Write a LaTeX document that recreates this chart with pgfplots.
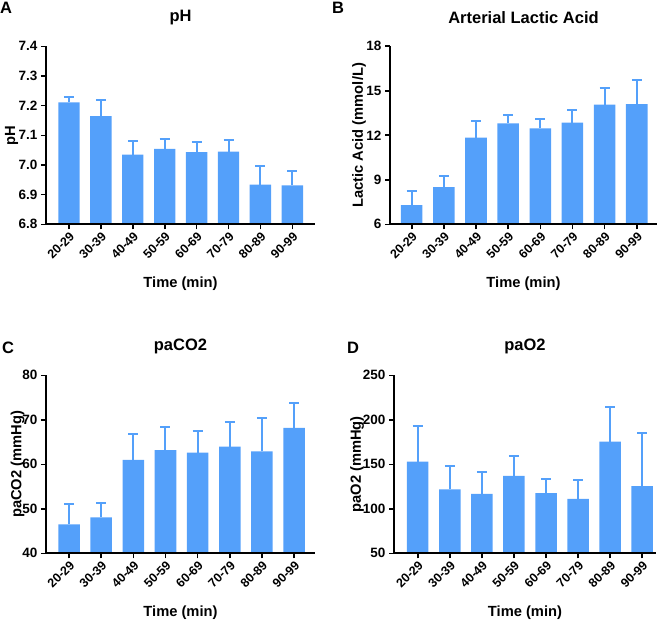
\documentclass[border=0pt]{standalone}
\usepackage{fontspec}
\setmainfont{Liberation Sans}
\usepackage{pgfplots}
\pgfplotsset{compat=1.18}

\definecolor{barblue}{RGB}{84,160,250}

\pgfplotsset{
  panel/.style={
    scale only axis,
    height=178pt,
    anchor=south west,
    axis x line*=bottom,
    axis y line*=left,
    axis on top,
    axis line style={line width=1.8pt, black},
    tick style={line width=1.6pt, black},
    tick align=outside,
    major tick length=5pt,
    xtick={0,...,7},
    xticklabels={20-29,30-39,40-49,50-59,60-69,70-79,80-89,90-99},
    xticklabel style={font=\fontsize{12.5}{14}\selectfont\bfseries, rotate=45, anchor=north east, inner sep=1pt},
    yticklabel style={font=\fontsize{13.5}{16}\selectfont\bfseries},
    /pgf/number format/assume math mode=true,
    label style={font=\fontsize{14.7}{17}\selectfont\bfseries},
    title style={font=\fontsize{16.5}{19}\selectfont\bfseries, at={(0.5,1)}, anchor=center, yshift=22.5pt},
    xlabel={Time (min)},
    xlabel style={at={(axis description cs:0.5,0)}, anchor=center, yshift=-59pt},
  },
  bars/.style={
    ybar, bar width=0.67, fill=barblue, draw=none,
    error bars/.cd, y dir=plus, y explicit,
    error mark=|,
    error bar style={barblue, line width=2pt},
    error mark options={barblue, line width=2pt, mark size=5pt},
  },
}

\begin{document}
\begin{tikzpicture}
\useasboundingbox (0pt,0pt) rectangle (666pt,622pt);

% A: pH
\begin{axis}[panel, at={(46pt,397.7pt)}, width=269pt,
    xmin=-0.72, xmax=7.71, ymin=6.8, ymax=7.4,
    ytick={6.8,6.9,...,7.41},
    yticklabel style={/pgf/number format/.cd, fixed, fixed zerofill, precision=1},
    title={pH}, ylabel={pH},
    ylabel style={at={(axis description cs:-0.1275,0.5)}, anchor=center}]
\addplot[bars] coordinates {
  (0,7.211) +- (0,0.019)
  (1,7.165) +- (0,0.053)
  (2,7.035) +- (0,0.046)
  (3,7.054) +- (0,0.034)
  (4,7.043) +- (0,0.034)
  (5,7.045) +- (0,0.038)
  (6,6.934) +- (0,0.061)
  (7,6.931) +- (0,0.049)
};
\end{axis}

% B: Arterial lactic acid
\begin{axis}[panel, at={(390pt,397.7pt)}, width=267pt,
    xmin=-0.675, xmax=7.63, ymin=6, ymax=18,
    ytick={6,9,12,15,18},
    title={Arterial Lactic Acid}, ylabel={Lactic Acid (mmol/L)},
    ylabel style={at={(axis description cs:-0.116,0.5)}, anchor=center}]
\addplot[bars] coordinates {
  (0,7.30) +- (0,0.96)
  (1,8.51) +- (0,0.76)
  (2,11.84) +- (0,1.12)
  (3,12.81) +- (0,0.58)
  (4,12.47) +- (0,0.63)
  (5,12.85) +- (0,0.87)
  (6,14.06) +- (0,1.12)
  (7,14.10) +- (0,1.66)
};
\end{axis}

% C: paCO2
\begin{axis}[panel, at={(46pt,68.7pt)}, width=269pt,
    xmin=-0.716, xmax=7.65, ymin=40, ymax=80,
    ytick={40,50,...,80},
    title={paCO2}, ylabel={paCO2 (mmHg)},
    ylabel style={at={(axis description cs:-0.106,0.5)}, anchor=center}]
\addplot[bars] coordinates {
  (0,46.5) +- (0,4.5)
  (1,48.1) +- (0,3.3)
  (2,61.0) +- (0,5.8)
  (3,63.2) +- (0,5.1)
  (4,62.6) +- (0,4.9)
  (5,64.0) +- (0,5.4)
  (6,62.9) +- (0,7.6)
  (7,68.2) +- (0,5.5)
};
\end{axis}

% D: paO2
\begin{axis}[panel, at={(394pt,68.7pt)}, width=262pt,
    xmin=-0.74, xmax=7.43, ymin=50, ymax=250,
    ytick={50,100,...,250},
    title={paO2}, ylabel={paO2 (mmHg)},
    ylabel style={at={(axis description cs:-0.141,0.5)}, anchor=center}]
\addplot[bars] coordinates {
  (0,153.0) +- (0,40.0)
  (1,121.9) +- (0,26.6)
  (2,116.9) +- (0,24.1)
  (3,136.9) +- (0,22.1)
  (4,117.6) +- (0,16.4)
  (5,111.2) +- (0,20.8)
  (6,175.6) +- (0,38.4)
  (7,125.6) +- (0,59.9)
};
\end{axis}

% panel letters
\node[font=\fontsize{16.5}{19}\selectfont\bfseries] at (6pt,614.5pt) {A};
\node[font=\fontsize{16.5}{19}\selectfont\bfseries] at (338pt,614.5pt) {B};
\node[font=\fontsize{16.5}{19}\selectfont\bfseries] at (8pt,274.3pt) {C};
\node[font=\fontsize{16.5}{19}\selectfont\bfseries] at (353pt,274.3pt) {D};
\end{tikzpicture}
\end{document}
